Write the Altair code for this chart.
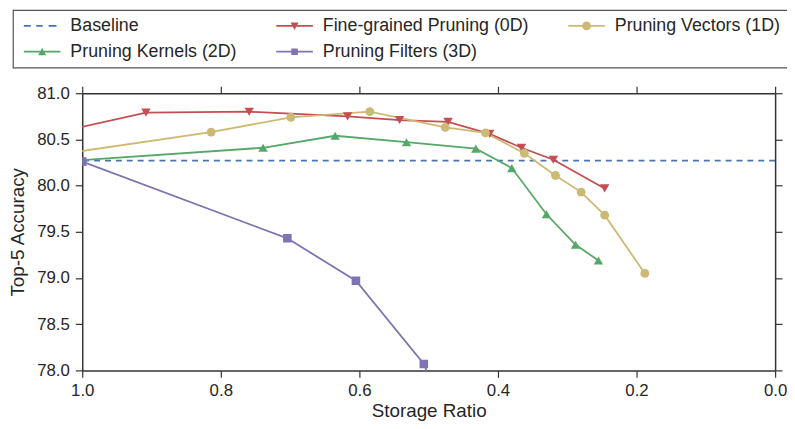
import altair as alt
import pandas as pd

# ---------------- data ----------------
# legend entries in column-major order (3 columns x 2 rows)
series_names = [
    "Baseline",
    "Pruning Kernels (2D)",
    "Fine-grained Pruning (0D)",
    "Pruning Filters (3D)",
    "Pruning Vectors (1D)",
]
series_colors = ["#4C72B0", "#55A868", "#C44E52", "#8172B2", "#CCB974"]

baseline_acc = [80.27]

fine_ratio = [1.10, 0.908, 0.759, 0.617, 0.542, 0.472, 0.412, 0.366, 0.320, 0.246]
fine_acc = [80.47, 80.79, 80.80, 80.75, 80.71, 80.69, 80.56, 80.41, 80.28, 79.97]

vec_ratio = [1.05, 0.814, 0.699, 0.585, 0.476, 0.418, 0.362, 0.317, 0.280, 0.246, 0.188]
vec_acc = [80.32, 80.58, 80.74, 80.80, 80.63, 80.57, 80.35, 80.11, 79.93, 79.68, 79.05]

ker_ratio = [1.05, 0.739, 0.635, 0.532, 0.432, 0.380, 0.330, 0.288, 0.255]
ker_acc = [80.25, 80.41, 80.54, 80.47, 80.40, 80.19, 79.69, 79.36, 79.19]

fil_ratio = [1.0, 0.704, 0.605, 0.507, 0.45]
fil_acc = [80.26, 79.43, 78.97, 78.07, 77.0]

x_ticks = [0.0, 0.2, 0.4, 0.6, 0.8, 1.0]
y_ticks = [78.0, 78.5, 79.0, 79.5, 80.0, 80.5, 81.0]

marker_shapes = {
    "Fine-grained Pruning (0D)": ("triangle-down", 90),
    "Pruning Vectors (1D)": ("circle", 80),
    "Pruning Kernels (2D)": ("triangle-up", 90),
    "Pruning Filters (3D)": ("square", 75),
}

# legend symbols: line + marker, custom paths (unit scale = 5px, size=100)
LINE = "M-1,-0.185H6.4V0.185H-1Z"
legend_paths = [
    "M-1,-0.185H0.4V0.185H-1Z M1.5,-0.185H2.8V0.185H1.5Z M4,-0.185H5.6V0.185H4Z",
    LINE + " M3.5,0.7L1.9,0.7L2.7,-0.8Z",
    LINE + " M1.9,-0.7L3.5,-0.7L2.7,0.8Z",
    LINE + " M2.04,-0.66H3.36V0.66H2.04Z",
    LINE + " M3.58,0A0.88,0.88,0,1,1,1.82,0A0.88,0.88,0,1,1,3.58,0Z",
]

rows = []
for name, xs, ys in [
    ("Fine-grained Pruning (0D)", fine_ratio, fine_acc),
    ("Pruning Vectors (1D)", vec_ratio, vec_acc),
    ("Pruning Kernels (2D)", ker_ratio, ker_acc),
    ("Pruning Filters (3D)", fil_ratio, fil_acc),
]:
    for x, y in zip(xs, ys):
        rows.append({"series": name, "ratio": x, "acc": y})
df = pd.DataFrame(rows)
base_df = pd.DataFrame({"series": ["Baseline"], "acc": baseline_acc})

# ---------------- scales ----------------
xscale = alt.Scale(domain=[0, 1], reverse=True, nice=False, zero=False)
yscale = alt.Scale(domain=[78, 81], nice=False, zero=False)
cscale = alt.Scale(domain=series_names, range=series_colors)

FONT = "Liberation Sans"
TXT = "#262626"

x_axis = alt.Axis(values=x_ticks, format=".1f", title="Storage Ratio", orient="bottom",
                  labelFlush=False, labelOverlap=False, labelPadding=5, titlePadding=4)
y_axis = alt.Axis(values=y_ticks, format=".1f", title="Top-5 Accuracy", orient="left",
                  labelFlush=False, labelOverlap=False, labelPadding=6, titlePadding=9)

leg = alt.Legend(
    title=None, orient="none", legendX=-70, legendY=-84, columns=3,
    labelFont=FONT, labelFontSize=18, labelColor=TXT, labelLimit=400,
    symbolSize=100, symbolStrokeWidth=0, symbolOpacity=1, labelOffset=33, columnPadding=35,
    rowPadding=8, padding=7, strokeColor="#555555", fillColor="white",
)

# first layer: carries the legend plus the mirrored top/right axes (draws nothing itself)
legend_layer = alt.Chart(df).mark_point(filled=True, size=100, opacity=0).encode(
    x=alt.X("ratio:Q", scale=xscale,
            axis=alt.Axis(values=x_ticks, orient="top", labels=False, title=None)),
    y=alt.Y("acc:Q", scale=yscale,
            axis=alt.Axis(values=y_ticks, orient="right", labels=False, title=None)),
    color=alt.Color("series:N", scale=cscale, legend=leg),
    shape=alt.Shape("series:N", scale=alt.Scale(domain=series_names, range=legend_paths), legend=leg),
)

lines = alt.Chart(df).mark_line(clip=True, strokeWidth=1.8).encode(
    x=alt.X("ratio:Q", scale=xscale, axis=x_axis),
    y=alt.Y("acc:Q", scale=yscale, axis=y_axis),
    color=alt.Color("series:N", scale=cscale),
    detail="series:N",
)

baseline = alt.Chart(base_df).mark_rule(strokeDash=[6, 5], strokeWidth=1.8).encode(
    y=alt.Y("acc:Q", scale=yscale, axis=None),
    color=alt.Color("series:N", scale=cscale),
)

point_layers = []
for name, (shape, size) in marker_shapes.items():
    point_layers.append(
        alt.Chart(df).transform_filter(alt.datum.series == name)
        .mark_point(filled=True, shape=shape, size=size, opacity=1, clip=True)
        .encode(
            x=alt.X("ratio:Q", scale=xscale, axis=None),
            y=alt.Y("acc:Q", scale=yscale, axis=None),
            color=alt.Color("series:N", scale=cscale),
        )
    )

chart = (
    alt.layer(legend_layer, baseline, lines, *point_layers)
    .resolve_axis(x="independent", y="independent")
    .properties(
        width=700, height=280,
        autosize=alt.AutoSizeParams(type="none"),
        padding={"left": 75, "top": 84, "right": 12, "bottom": 50},
    )
    .configure(font=FONT)
    .configure_view(stroke=None)
    .configure_axis(
        grid=False, domainColor="#333333", domainWidth=1.5, tickColor="#333333",
        tickWidth=1.2, tickSize=7, labelFontSize=17, titleFontSize=19,
        titleFontWeight="normal", labelColor=TXT, titleColor=TXT, labelFont=FONT, titleFont=FONT,
    )
    .configure_legend(strokeWidth=1.2)
)

chart.save("out.html", embed_options={"renderer": "svg", "actions": False})
